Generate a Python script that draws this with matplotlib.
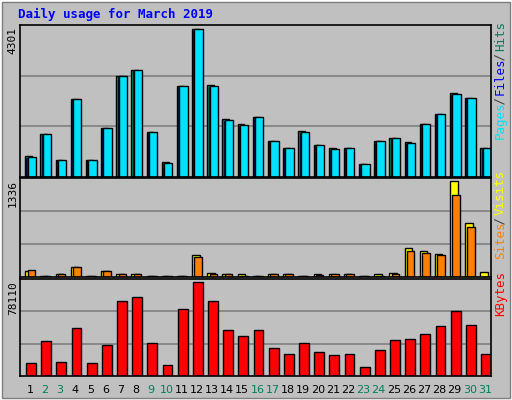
import matplotlib
matplotlib.use("Agg")
import matplotlib.pyplot as plt
from matplotlib.patches import Rectangle
import numpy as np

days = list(range(1, 32))
weekend = [2, 3, 9, 10, 16, 17, 23, 24, 30, 31]
hits = [603,1245,487,2267,487,1421,2939,3114,1304,428,2647,4301,2676,1683,1537,1742,1041,837,1333,924,837,837,370,1041,1129,1012,1537,1829,2442,2296,837]
files = [575,1245,487,2267,487,1421,2939,3114,1304,400,2647,4301,2650,1655,1510,1742,1041,837,1305,924,810,837,370,1041,1129,985,1537,1829,2420,2296,837]
pages = [560,1230,475,2250,475,1405,2920,3100,1290,390,2630,4260,2630,1640,1495,1725,1030,825,1290,910,800,825,360,1030,1115,970,1520,1815,2400,2280,825]
visits = [77,15,39,140,15,77,39,39,15,15,15,299,53,39,39,15,39,39,15,39,39,39,15,39,53,400,357,323,1336,757,63]
sites = [92,12,39,140,12,77,39,39,12,12,12,280,39,39,10,12,39,39,12,25,39,39,12,20,39,367,338,299,1133,699,5]
kbytes = [10548,29362,11403,39625,10548,25942,61861,65282,27652,8837,55874,78110,61861,37915,32783,37915,23376,18245,27652,19955,17389,18245,7127,21665,30218,31073,34494,41336,54164,42191,18245]

BG = "#C0C0C0"
fig = plt.figure(figsize=(5.12, 4.0), dpi=100, facecolor=BG)
fig.patches.append(Rectangle((0, 0), 1, 1, transform=fig.transFigure, fill=False, edgecolor="white", lw=2))
fig.patches.append(Rectangle((0.004, 0.004), 0.992, 0.992, transform=fig.transFigure, fill=False, edgecolor="#808080", lw=1))

x = np.array(days, dtype=float)
L, W = 0.039, 0.92
rects = [(0.5575, 0.38), (0.3075, 0.2475), (0.06, 0.2425)]
axes = [fig.add_axes([L, b, W, h]) for b, h in rects]

def style(ax, top):
    ax.set_facecolor(BG)
    ax.set_xlim(0.45, 31.5)
    ax.set_ylim(0, top * 1.03)
    for f in (1/3, 2/3):
        ax.axhline(top * 1.03 * f, color="#808080", lw=1.2, zorder=0)
    ax.set_xticks([]); ax.set_yticks([])
    for s in ax.spines.values():
        s.set_color("black"); s.set_linewidth(1.2)

ax = axes[0]
style(ax, max(hits))
ax.bar(x - 0.2, hits, 0.45, align="edge", color="#00805C", edgecolor="black", lw=1)
ax.bar(x - 0.12, pages, 0.45, align="edge", color="#0000FF", edgecolor="black", lw=0.5)
ax.bar(x - 0.05, files, 0.55, align="edge", color="#00E0FF", edgecolor="black", lw=1)

ax = axes[1]
style(ax, max(visits))
ax.bar(x - 0.2, visits, 0.5, align="edge", color="#FFFF00", edgecolor="black", lw=1)
ax.bar(x - 0.05, sites, 0.5, align="edge", color="#FF8000", edgecolor="black", lw=1)

ax = axes[2]
style(ax, max(kbytes))
ax.bar(x - 0.15, kbytes, 0.65, align="edge", color="#FF0000", edgecolor="black", lw=1)

mono = "DejaVu Sans Mono"
fig.text(0.035, 0.965, "Daily usage for March 2019", color="#0000FF", fontsize=9, fontweight="bold", family=mono, va="center")
for (b, h), lab in zip(rects, [str(max(hits)), str(max(visits)), str(max(kbytes))]):
    fig.text(0.025, b + h - 0.005, lab, rotation=90, ha="center", va="top", fontsize=8, family=mono)

def rlabel(b, h, parts):
    ch = 0.0138
    total = sum(len(p) for p, _ in parts)
    y = b + h - 0.01 - total * ch
    for p, c in parts:
        fig.text(0.977, y, p, rotation=90, ha="center", va="bottom", color=c, fontsize=9, family=mono)
        y += len(p) * ch

rlabel(*rects[0], [("Pages", "#00E0FF"), (" / ", "#404040"), ("Files", "#0000FF"), (" / ", "#404040"), ("Hits", "#00805C")])
rlabel(*rects[1], [("Sites", "#FF8000"), (" / ", "#404040"), ("Visits", "#FFFF00")])
rlabel(*rects[2], [("KBytes", "#FF0000")])

for d in days:
    fx = L + W * (d + 0.1 - 0.45) / (31.5 - 0.45)
    fig.text(fx, 0.025, str(d), ha="center", va="center", fontsize=8,
             color="#00805C" if d in weekend else "black")

fig.savefig("out.png", dpi=100, facecolor=BG)
